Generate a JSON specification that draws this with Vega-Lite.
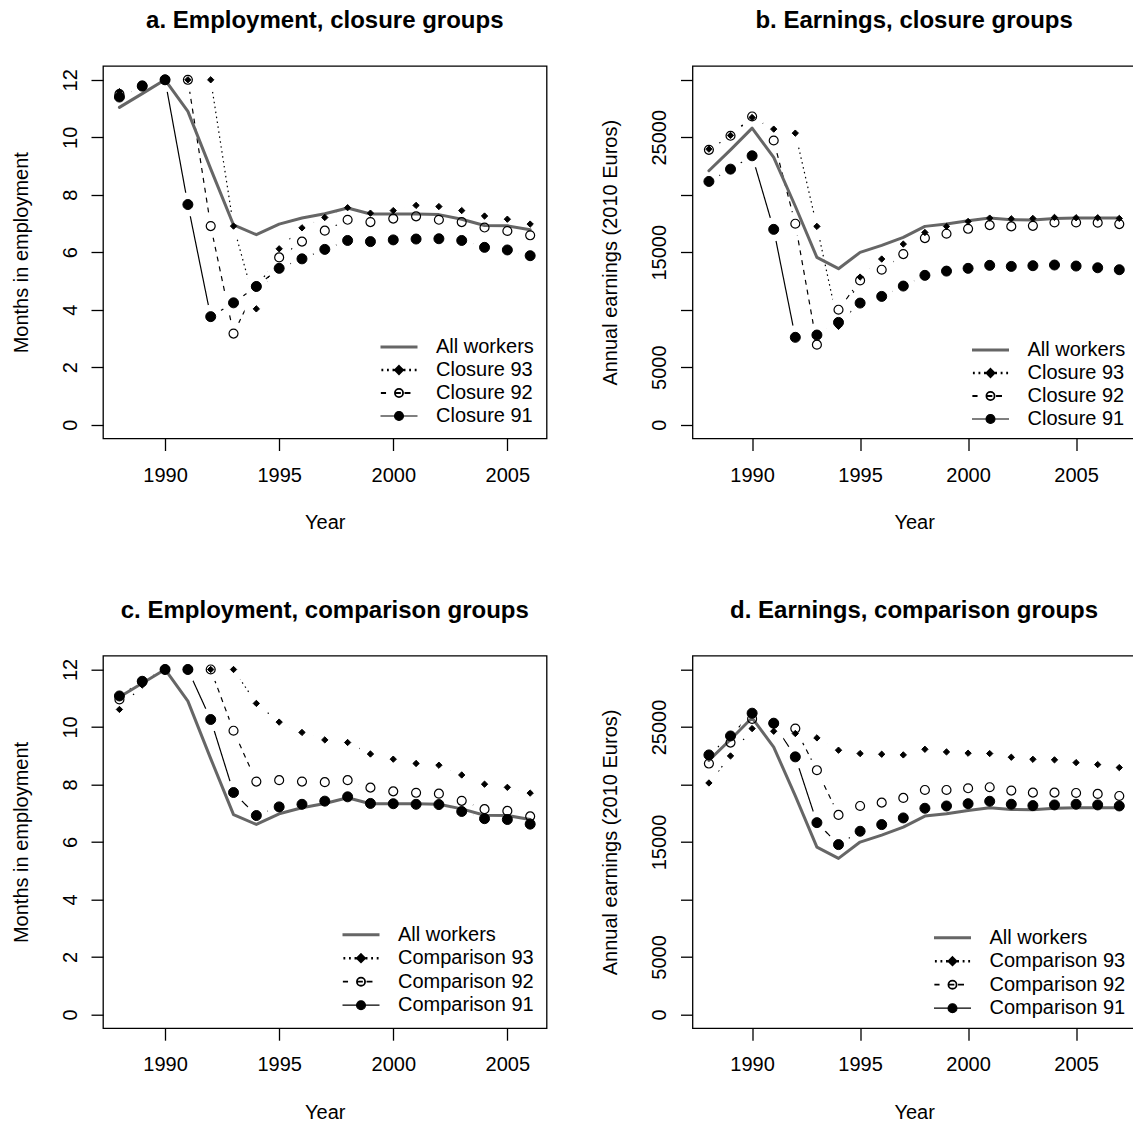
{
  "$schema": "https://vega.github.io/schema/vega-lite/v6.json",
  "background": "white",
  "padding": {"left": 10, "top": 8, "right": -3, "bottom": 0},
  "bounds": "flush",
  "columns": 2,
  "spacing": {"row": 216.7, "column": 145.5},
  "config": {
    "font": "Liberation Sans",
    "view": {"stroke": "black", "strokeWidth": 1.3},
    "title": {"font": "Liberation Sans", "fontSize": 24, "fontWeight": "bold", "color": "black", "anchor": "middle", "baseline": "alphabetic", "offset": 33, "frame": "group"},
    "axis": {"grid": false, "domain": false, "tickColor": "black", "tickWidth": 1.3, "tickSize": 12, "labelFont": "Liberation Sans", "labelFontSize": 20, "labelColor": "black", "labelFlush": false, "labelOverlap": false, "titleFont": "Liberation Sans", "titleFontSize": 20, "titleFontWeight": "normal", "titleColor": "black"},
    "axisX": {"labelBaseline": "alphabetic", "labelPadding": 30.5, "titleBaseline": "alphabetic", "titleY": 90},
    "axisY": {"labelAngle": 270, "labelAlign": "center", "labelBaseline": "alphabetic", "labelPadding": 15, "titleAngle": 270, "titleBaseline": "alphabetic", "titleX": -76},
    "legend": {"title": null, "orient": "bottom-right", "padding": 0, "symbolSize": 1369, "labelOffset": 17, "rowPadding": 3, "clipHeight": 20, "labelFontSize": 20, "labelFont": "Liberation Sans", "labelColor": "black", "labelLimit": 300}
  },
  "datasets": {
    "a": [
      {"year":1988,"series":"All workers","value":11.04},{"year":1989,"series":"All workers","value":11.52},{"year":1990,"series":"All workers","value":12.0},{"year":1991,"series":"All workers","value":10.9},{"year":1992,"series":"All workers","value":8.9},{"year":1993,"series":"All workers","value":6.95},{"year":1994,"series":"All workers","value":6.61},{"year":1995,"series":"All workers","value":6.98},{"year":1996,"series":"All workers","value":7.19},{"year":1997,"series":"All workers","value":7.34},{"year":1998,"series":"All workers","value":7.54},{"year":1999,"series":"All workers","value":7.33},{"year":2000,"series":"All workers","value":7.33},{"year":2001,"series":"All workers","value":7.33},{"year":2002,"series":"All workers","value":7.31},{"year":2003,"series":"All workers","value":7.15},{"year":2004,"series":"All workers","value":6.93},{"year":2005,"series":"All workers","value":6.92},{"year":2006,"series":"All workers","value":6.78},
      {"year":1988,"series":"Closure 93","value":11.59},{"year":1989,"series":"Closure 93","value":11.8},{"year":1990,"series":"Closure 93","value":12.0},{"year":1991,"series":"Closure 93","value":12.0},{"year":1992,"series":"Closure 93","value":12.0},{"year":1993,"series":"Closure 93","value":6.91},{"year":1994,"series":"Closure 93","value":4.03},{"year":1995,"series":"Closure 93","value":6.12},{"year":1996,"series":"Closure 93","value":6.85},{"year":1997,"series":"Closure 93","value":7.21},{"year":1998,"series":"Closure 93","value":7.55},{"year":1999,"series":"Closure 93","value":7.36},{"year":2000,"series":"Closure 93","value":7.45},{"year":2001,"series":"Closure 93","value":7.63},{"year":2002,"series":"Closure 93","value":7.59},{"year":2003,"series":"Closure 93","value":7.45},{"year":2004,"series":"Closure 93","value":7.26},{"year":2005,"series":"Closure 93","value":7.15},{"year":2006,"series":"Closure 93","value":6.98},
      {"year":1988,"series":"Closure 92","value":11.5},{"year":1989,"series":"Closure 92","value":11.8},{"year":1990,"series":"Closure 92","value":12.0},{"year":1991,"series":"Closure 92","value":12.0},{"year":1992,"series":"Closure 92","value":6.91},{"year":1993,"series":"Closure 92","value":3.17},{"year":1994,"series":"Closure 92","value":4.81},{"year":1995,"series":"Closure 92","value":5.82},{"year":1996,"series":"Closure 92","value":6.37},{"year":1997,"series":"Closure 92","value":6.75},{"year":1998,"series":"Closure 92","value":7.13},{"year":1999,"series":"Closure 92","value":7.05},{"year":2000,"series":"Closure 92","value":7.17},{"year":2001,"series":"Closure 92","value":7.25},{"year":2002,"series":"Closure 92","value":7.13},{"year":2003,"series":"Closure 92","value":7.05},{"year":2004,"series":"Closure 92","value":6.86},{"year":2005,"series":"Closure 92","value":6.74},{"year":2006,"series":"Closure 92","value":6.59},
      {"year":1988,"series":"Closure 91","value":11.4},{"year":1989,"series":"Closure 91","value":11.78},{"year":1990,"series":"Closure 91","value":12.0},{"year":1991,"series":"Closure 91","value":7.66},{"year":1992,"series":"Closure 91","value":3.76},{"year":1993,"series":"Closure 91","value":4.24},{"year":1994,"series":"Closure 91","value":4.81},{"year":1995,"series":"Closure 91","value":5.44},{"year":1996,"series":"Closure 91","value":5.77},{"year":1997,"series":"Closure 91","value":6.1},{"year":1998,"series":"Closure 91","value":6.41},{"year":1999,"series":"Closure 91","value":6.37},{"year":2000,"series":"Closure 91","value":6.43},{"year":2001,"series":"Closure 91","value":6.46},{"year":2002,"series":"Closure 91","value":6.47},{"year":2003,"series":"Closure 91","value":6.41},{"year":2004,"series":"Closure 91","value":6.17},{"year":2005,"series":"Closure 91","value":6.08},{"year":2006,"series":"Closure 91","value":5.88}
    ],
    "b": [
      {"year":1988,"series":"All workers","value":22090},{"year":1989,"series":"All workers","value":23910},{"year":1990,"series":"All workers","value":25800},{"year":1991,"series":"All workers","value":23250},{"year":1992,"series":"All workers","value":19000},{"year":1993,"series":"All workers","value":14550},{"year":1994,"series":"All workers","value":13570},{"year":1995,"series":"All workers","value":14990},{"year":1996,"series":"All workers","value":15600},{"year":1997,"series":"All workers","value":16290},{"year":1998,"series":"All workers","value":17250},{"year":1999,"series":"All workers","value":17450},{"year":2000,"series":"All workers","value":17740},{"year":2001,"series":"All workers","value":17970},{"year":2002,"series":"All workers","value":17830},{"year":2003,"series":"All workers","value":17800},{"year":2004,"series":"All workers","value":17940},{"year":2005,"series":"All workers","value":17970},{"year":2006,"series":"All workers","value":17970},{"year":2007,"series":"All workers","value":17970},
      {"year":1988,"series":"Closure 93","value":23970},{"year":1989,"series":"Closure 93","value":25160},{"year":1990,"series":"Closure 93","value":26720},{"year":1991,"series":"Closure 93","value":25710},{"year":1992,"series":"Closure 93","value":25360},{"year":1993,"series":"Closure 93","value":17250},{"year":1994,"series":"Closure 93","value":8550},{"year":1995,"series":"Closure 93","value":12840},{"year":1996,"series":"Closure 93","value":14410},{"year":1997,"series":"Closure 93","value":15710},{"year":1998,"series":"Closure 93","value":16720},{"year":1999,"series":"Closure 93","value":17250},{"year":2000,"series":"Closure 93","value":17680},{"year":2001,"series":"Closure 93","value":17970},{"year":2002,"series":"Closure 93","value":17910},{"year":2003,"series":"Closure 93","value":17940},{"year":2004,"series":"Closure 93","value":18030},{"year":2005,"series":"Closure 93","value":18000},{"year":2006,"series":"Closure 93","value":18000},{"year":2007,"series":"Closure 93","value":17940},
      {"year":1988,"series":"Closure 92","value":23910},{"year":1989,"series":"Closure 92","value":25130},{"year":1990,"series":"Closure 92","value":26810},{"year":1991,"series":"Closure 92","value":24720},{"year":1992,"series":"Closure 92","value":17480},{"year":1993,"series":"Closure 92","value":6960},{"year":1994,"series":"Closure 92","value":10000},{"year":1995,"series":"Closure 92","value":12550},{"year":1996,"series":"Closure 92","value":13480},{"year":1997,"series":"Closure 92","value":14840},{"year":1998,"series":"Closure 92","value":16230},{"year":1999,"series":"Closure 92","value":16610},{"year":2000,"series":"Closure 92","value":17040},{"year":2001,"series":"Closure 92","value":17360},{"year":2002,"series":"Closure 92","value":17250},{"year":2003,"series":"Closure 92","value":17300},{"year":2004,"series":"Closure 92","value":17590},{"year":2005,"series":"Closure 92","value":17590},{"year":2006,"series":"Closure 92","value":17570},{"year":2007,"series":"Closure 92","value":17450},
      {"year":1988,"series":"Closure 91","value":21160},{"year":1989,"series":"Closure 91","value":22230},{"year":1990,"series":"Closure 91","value":23390},{"year":1991,"series":"Closure 91","value":16990},{"year":1992,"series":"Closure 91","value":7600},{"year":1993,"series":"Closure 91","value":7800},{"year":1994,"series":"Closure 91","value":8900},{"year":1995,"series":"Closure 91","value":10580},{"year":1996,"series":"Closure 91","value":11160},{"year":1997,"series":"Closure 91","value":12060},{"year":1998,"series":"Closure 91","value":12990},{"year":1999,"series":"Closure 91","value":13360},{"year":2000,"series":"Closure 91","value":13600},{"year":2001,"series":"Closure 91","value":13860},{"year":2002,"series":"Closure 91","value":13770},{"year":2003,"series":"Closure 91","value":13830},{"year":2004,"series":"Closure 91","value":13890},{"year":2005,"series":"Closure 91","value":13800},{"year":2006,"series":"Closure 91","value":13650},{"year":2007,"series":"Closure 91","value":13480}
    ],
    "c": [
      {"year":1988,"series":"All workers","value":11.04},{"year":1989,"series":"All workers","value":11.52},{"year":1990,"series":"All workers","value":12.0},{"year":1991,"series":"All workers","value":10.9},{"year":1992,"series":"All workers","value":8.9},{"year":1993,"series":"All workers","value":6.95},{"year":1994,"series":"All workers","value":6.61},{"year":1995,"series":"All workers","value":6.98},{"year":1996,"series":"All workers","value":7.19},{"year":1997,"series":"All workers","value":7.34},{"year":1998,"series":"All workers","value":7.54},{"year":1999,"series":"All workers","value":7.33},{"year":2000,"series":"All workers","value":7.33},{"year":2001,"series":"All workers","value":7.33},{"year":2002,"series":"All workers","value":7.31},{"year":2003,"series":"All workers","value":7.15},{"year":2004,"series":"All workers","value":6.93},{"year":2005,"series":"All workers","value":6.92},{"year":2006,"series":"All workers","value":6.78},
      {"year":1988,"series":"Comparison 93","value":10.61},{"year":1989,"series":"Comparison 93","value":11.46},{"year":1990,"series":"Comparison 93","value":12.0},{"year":1991,"series":"Comparison 93","value":12.0},{"year":1992,"series":"Comparison 93","value":12.0},{"year":1993,"series":"Comparison 93","value":12.0},{"year":1994,"series":"Comparison 93","value":10.82},{"year":1995,"series":"Comparison 93","value":10.17},{"year":1996,"series":"Comparison 93","value":9.81},{"year":1997,"series":"Comparison 93","value":9.55},{"year":1998,"series":"Comparison 93","value":9.46},{"year":1999,"series":"Comparison 93","value":9.06},{"year":2000,"series":"Comparison 93","value":8.88},{"year":2001,"series":"Comparison 93","value":8.73},{"year":2002,"series":"Comparison 93","value":8.67},{"year":2003,"series":"Comparison 93","value":8.33},{"year":2004,"series":"Comparison 93","value":8.01},{"year":2005,"series":"Comparison 93","value":7.9},{"year":2006,"series":"Comparison 93","value":7.7},
      {"year":1988,"series":"Comparison 92","value":10.96},{"year":1989,"series":"Comparison 92","value":11.57},{"year":1990,"series":"Comparison 92","value":12.0},{"year":1991,"series":"Comparison 92","value":12.0},{"year":1992,"series":"Comparison 92","value":12.0},{"year":1993,"series":"Comparison 92","value":9.87},{"year":1994,"series":"Comparison 92","value":8.1},{"year":1995,"series":"Comparison 92","value":8.15},{"year":1996,"series":"Comparison 92","value":8.1},{"year":1997,"series":"Comparison 92","value":8.08},{"year":1998,"series":"Comparison 92","value":8.15},{"year":1999,"series":"Comparison 92","value":7.89},{"year":2000,"series":"Comparison 92","value":7.76},{"year":2001,"series":"Comparison 92","value":7.71},{"year":2002,"series":"Comparison 92","value":7.68},{"year":2003,"series":"Comparison 92","value":7.43},{"year":2004,"series":"Comparison 92","value":7.14},{"year":2005,"series":"Comparison 92","value":7.08},{"year":2006,"series":"Comparison 92","value":6.89},
      {"year":1988,"series":"Comparison 91","value":11.08},{"year":1989,"series":"Comparison 91","value":11.59},{"year":1990,"series":"Comparison 91","value":12.0},{"year":1991,"series":"Comparison 91","value":12.0},{"year":1992,"series":"Comparison 91","value":10.26},{"year":1993,"series":"Comparison 91","value":7.72},{"year":1994,"series":"Comparison 91","value":6.92},{"year":1995,"series":"Comparison 91","value":7.22},{"year":1996,"series":"Comparison 91","value":7.31},{"year":1997,"series":"Comparison 91","value":7.42},{"year":1998,"series":"Comparison 91","value":7.57},{"year":1999,"series":"Comparison 91","value":7.34},{"year":2000,"series":"Comparison 91","value":7.33},{"year":2001,"series":"Comparison 91","value":7.31},{"year":2002,"series":"Comparison 91","value":7.3},{"year":2003,"series":"Comparison 91","value":7.06},{"year":2004,"series":"Comparison 91","value":6.81},{"year":2005,"series":"Comparison 91","value":6.78},{"year":2006,"series":"Comparison 91","value":6.62}
    ],
    "d": [
      {"year":1988,"series":"All workers","value":22090},{"year":1989,"series":"All workers","value":23910},{"year":1990,"series":"All workers","value":25800},{"year":1991,"series":"All workers","value":23250},{"year":1992,"series":"All workers","value":19000},{"year":1993,"series":"All workers","value":14550},{"year":1994,"series":"All workers","value":13570},{"year":1995,"series":"All workers","value":14990},{"year":1996,"series":"All workers","value":15600},{"year":1997,"series":"All workers","value":16290},{"year":1998,"series":"All workers","value":17250},{"year":1999,"series":"All workers","value":17450},{"year":2000,"series":"All workers","value":17740},{"year":2001,"series":"All workers","value":17970},{"year":2002,"series":"All workers","value":17830},{"year":2003,"series":"All workers","value":17800},{"year":2004,"series":"All workers","value":17940},{"year":2005,"series":"All workers","value":17970},{"year":2006,"series":"All workers","value":17970},{"year":2007,"series":"All workers","value":17970},
      {"year":1988,"series":"Comparison 93","value":20130},{"year":1989,"series":"Comparison 93","value":22480},{"year":1990,"series":"Comparison 93","value":24860},{"year":1991,"series":"Comparison 93","value":24630},{"year":1992,"series":"Comparison 93","value":24430},{"year":1993,"series":"Comparison 93","value":24050},{"year":1994,"series":"Comparison 93","value":22980},{"year":1995,"series":"Comparison 93","value":22690},{"year":1996,"series":"Comparison 93","value":22630},{"year":1997,"series":"Comparison 93","value":22570},{"year":1998,"series":"Comparison 93","value":23060},{"year":1999,"series":"Comparison 93","value":22830},{"year":2000,"series":"Comparison 93","value":22720},{"year":2001,"series":"Comparison 93","value":22690},{"year":2002,"series":"Comparison 93","value":22370},{"year":2003,"series":"Comparison 93","value":22190},{"year":2004,"series":"Comparison 93","value":22140},{"year":2005,"series":"Comparison 93","value":21900},{"year":2006,"series":"Comparison 93","value":21730},{"year":2007,"series":"Comparison 93","value":21470},
      {"year":1988,"series":"Comparison 92","value":21820},{"year":1989,"series":"Comparison 92","value":23640},{"year":1990,"series":"Comparison 92","value":25700},{"year":1991,"series":"Comparison 92","value":25300},{"year":1992,"series":"Comparison 92","value":24860},{"year":1993,"series":"Comparison 92","value":21240},{"year":1994,"series":"Comparison 92","value":17350},{"year":1995,"series":"Comparison 92","value":18130},{"year":1996,"series":"Comparison 92","value":18420},{"year":1997,"series":"Comparison 92","value":18830},{"year":1998,"series":"Comparison 92","value":19520},{"year":1999,"series":"Comparison 92","value":19520},{"year":2000,"series":"Comparison 92","value":19670},{"year":2001,"series":"Comparison 92","value":19760},{"year":2002,"series":"Comparison 92","value":19470},{"year":2003,"series":"Comparison 92","value":19290},{"year":2004,"series":"Comparison 92","value":19290},{"year":2005,"series":"Comparison 92","value":19260},{"year":2006,"series":"Comparison 92","value":19180},{"year":2007,"series":"Comparison 92","value":19000},
      {"year":1988,"series":"Comparison 91","value":22570},{"year":1989,"series":"Comparison 91","value":24220},{"year":1990,"series":"Comparison 91","value":26200},{"year":1991,"series":"Comparison 91","value":25330},{"year":1992,"series":"Comparison 91","value":22400},{"year":1993,"series":"Comparison 91","value":16680},{"year":1994,"series":"Comparison 91","value":14770},{"year":1995,"series":"Comparison 91","value":15930},{"year":1996,"series":"Comparison 91","value":16510},{"year":1997,"series":"Comparison 91","value":17090},{"year":1998,"series":"Comparison 91","value":17930},{"year":1999,"series":"Comparison 91","value":18130},{"year":2000,"series":"Comparison 91","value":18330},{"year":2001,"series":"Comparison 91","value":18540},{"year":2002,"series":"Comparison 91","value":18280},{"year":2003,"series":"Comparison 91","value":18160},{"year":2004,"series":"Comparison 91","value":18220},{"year":2005,"series":"Comparison 91","value":18280},{"year":2006,"series":"Comparison 91","value":18220},{"year":2007,"series":"Comparison 91","value":18130}
    ]
  },
  "concat": [
    {
      "title": {"text": "a. Employment, closure groups"},
      "width": 443.6, "height": 372.5,
      "data": {"name": "a"},
      "encoding": {
        "x": {"field": "year", "type": "quantitative", "scale": {"domain": [1987.28, 2006.72], "nice": false, "zero": false}, "axis": {"values": [1990, 1995, 2000, 2005], "format": "d", "title": "Year"}},
        "y": {"field": "value", "type": "quantitative", "scale": {"domain": [-0.48, 12.48], "nice": false, "zero": false}, "axis": {"values": [0, 2, 4, 6, 8, 10, 12], "title": "Months in employment"}}
      },
      "layer": [
        {"transform": [{"filter": "datum.series != 'All workers'"}], "mark": {"type": "line", "stroke": "black", "strokeWidth": 1.2}, "encoding": {"strokeDash": {"field": "series", "type": "nominal", "scale": {"domain": ["Closure 93", "Closure 92", "Closure 91"], "range": [[1.5, 3.5], [5, 5], [1, 0]]}, "legend": null}}},
        {"transform": [{"filter": "datum.series != 'All workers'"}], "mark": {"type": "point", "filled": true, "color": "white", "size": 576, "opacity": 1, "strokeWidth": 0}},
        {"transform": [{"filter": "datum.series == 'All workers'"}], "mark": {"type": "line", "stroke": "#666666", "strokeWidth": 3, "strokeCap": "round", "strokeJoin": "round"}},
        {"transform": [{"filter": "datum.series == 'Closure 93'"}], "mark": {"type": "point", "shape": "diamond", "filled": true, "color": "black", "stroke": "black", "strokeWidth": 1, "size": 40, "opacity": 1}},
        {"transform": [{"filter": "datum.series == 'Closure 92'"}], "mark": {"type": "point", "shape": "circle", "filled": false, "stroke": "black", "fill": "transparent", "strokeWidth": 1.2, "size": 80, "opacity": 1}},
        {"transform": [{"filter": "datum.series == 'Closure 91'"}], "mark": {"type": "point", "shape": "circle", "filled": true, "color": "black", "stroke": "black", "strokeWidth": 1, "size": 100, "opacity": 1}},
        {"transform": [{"filter": "false"}], "mark": {"type": "point", "filled": true, "opacity": 1},
         "encoding": {
           "shape": {"field": "series", "type": "nominal", "scale": {"domain": ["All workers", "Closure 93", "Closure 92", "Closure 91"], "range": ["M-1,0H1", "M-0.95,0H-0.85M-0.65,0H-0.55M-0.35,0H-0.25M0.25,0H0.35M0.55,0H0.65M0.85,0H0.95M0,-0.2L0.2,0L0,0.2L-0.2,0Z", "M-0.98,0H-0.7M0.3,0H0.62M-0.22,0H0.1M-0.22,0A0.22,0.22 0 1,1 0.22,0A0.22,0.22 0 1,1 -0.22,0Z", "M-1,0H1M-0.24,0A0.24,0.24 0 1,1 0.24,0A0.24,0.24 0 1,1 -0.24,0Z"]}, "legend": {"title": null, "offset": 12.5}},
           "fill": {"field": "series", "type": "nominal", "scale": {"domain": ["All workers", "Closure 93", "Closure 92", "Closure 91"], "range": ["#666666", "black", "transparent", "black"]}, "legend": {"title": null, "offset": 12.5}},
           "stroke": {"field": "series", "type": "nominal", "scale": {"domain": ["All workers", "Closure 93", "Closure 92", "Closure 91"], "range": ["#666666", "black", "black", "black"]}, "legend": {"title": null, "offset": 12.5}},
           "strokeWidth": {"field": "series", "type": "nominal", "scale": {"domain": ["All workers", "Closure 93", "Closure 92", "Closure 91"], "range": [3, 1.2, 1.2, 1.2]}, "legend": {"title": null, "offset": 12.5}}
         }}
      ]
    },
    {
      "title": {"text": "b. Earnings, closure groups"},
      "width": 443.2, "height": 372.5,
      "data": {"name": "b"},
      "encoding": {
        "x": {"field": "year", "type": "quantitative", "scale": {"domain": [1987.24, 2007.76], "nice": false, "zero": false}, "axis": {"values": [1990, 1995, 2000, 2005], "format": "d", "title": "Year"}},
        "y": {"field": "value", "type": "quantitative", "scale": {"domain": [-1200, 31200], "nice": false, "zero": false}, "axis": {"values": [0, 5000, 10000, 15000, 20000, 25000, 30000], "format": "d", "labelExpr": "indexof([0, 5000, 15000, 25000], datum.value) >= 0 ? datum.label : ''", "title": "Annual earnings (2010 Euros)"}}
      },
      "layer": [
        {"transform": [{"filter": "datum.series != 'All workers'"}], "mark": {"type": "line", "stroke": "black", "strokeWidth": 1.2}, "encoding": {"strokeDash": {"field": "series", "type": "nominal", "scale": {"domain": ["Closure 93", "Closure 92", "Closure 91"], "range": [[1.5, 3.5], [5, 5], [1, 0]]}, "legend": null}}},
        {"transform": [{"filter": "datum.series != 'All workers'"}], "mark": {"type": "point", "filled": true, "color": "white", "size": 576, "opacity": 1, "strokeWidth": 0}},
        {"transform": [{"filter": "datum.series == 'All workers'"}], "mark": {"type": "line", "stroke": "#666666", "strokeWidth": 3, "strokeCap": "round", "strokeJoin": "round"}},
        {"transform": [{"filter": "datum.series == 'Closure 93'"}], "mark": {"type": "point", "shape": "diamond", "filled": true, "color": "black", "stroke": "black", "strokeWidth": 1, "size": 40, "opacity": 1}},
        {"transform": [{"filter": "datum.series == 'Closure 92'"}], "mark": {"type": "point", "shape": "circle", "filled": false, "stroke": "black", "fill": "transparent", "strokeWidth": 1.2, "size": 80, "opacity": 1}},
        {"transform": [{"filter": "datum.series == 'Closure 91'"}], "mark": {"type": "point", "shape": "circle", "filled": true, "color": "black", "stroke": "black", "strokeWidth": 1, "size": 100, "opacity": 1}},
        {"transform": [{"filter": "false"}], "mark": {"type": "point", "filled": true, "opacity": 1},
         "encoding": {
           "shape": {"field": "series", "type": "nominal", "scale": {"domain": ["All workers", "Closure 93", "Closure 92", "Closure 91"], "range": ["M-1,0H1", "M-0.95,0H-0.85M-0.65,0H-0.55M-0.35,0H-0.25M0.25,0H0.35M0.55,0H0.65M0.85,0H0.95M0,-0.2L0.2,0L0,0.2L-0.2,0Z", "M-0.98,0H-0.7M0.3,0H0.62M-0.22,0H0.1M-0.22,0A0.22,0.22 0 1,1 0.22,0A0.22,0.22 0 1,1 -0.22,0Z", "M-1,0H1M-0.24,0A0.24,0.24 0 1,1 0.24,0A0.24,0.24 0 1,1 -0.24,0Z"]}, "legend": {"title": null, "offset": 10}},
           "fill": {"field": "series", "type": "nominal", "scale": {"domain": ["All workers", "Closure 93", "Closure 92", "Closure 91"], "range": ["#666666", "black", "transparent", "black"]}, "legend": {"title": null, "offset": 10}},
           "stroke": {"field": "series", "type": "nominal", "scale": {"domain": ["All workers", "Closure 93", "Closure 92", "Closure 91"], "range": ["#666666", "black", "black", "black"]}, "legend": {"title": null, "offset": 10}},
           "strokeWidth": {"field": "series", "type": "nominal", "scale": {"domain": ["All workers", "Closure 93", "Closure 92", "Closure 91"], "range": [3, 1.2, 1.2, 1.2]}, "legend": {"title": null, "offset": 10}}
         }}
      ]
    },
    {
      "title": {"text": "c. Employment, comparison groups"},
      "width": 443.6, "height": 372.5,
      "data": {"name": "c"},
      "encoding": {
        "x": {"field": "year", "type": "quantitative", "scale": {"domain": [1987.28, 2006.72], "nice": false, "zero": false}, "axis": {"values": [1990, 1995, 2000, 2005], "format": "d", "title": "Year"}},
        "y": {"field": "value", "type": "quantitative", "scale": {"domain": [-0.48, 12.48], "nice": false, "zero": false}, "axis": {"values": [0, 2, 4, 6, 8, 10, 12], "title": "Months in employment"}}
      },
      "layer": [
        {"transform": [{"filter": "datum.series != 'All workers'"}], "mark": {"type": "line", "stroke": "black", "strokeWidth": 1.2}, "encoding": {"strokeDash": {"field": "series", "type": "nominal", "scale": {"domain": ["Comparison 93", "Comparison 92", "Comparison 91"], "range": [[1.5, 3.5], [5, 5], [1, 0]]}, "legend": null}}},
        {"transform": [{"filter": "datum.series != 'All workers'"}], "mark": {"type": "point", "filled": true, "color": "white", "size": 576, "opacity": 1, "strokeWidth": 0}},
        {"transform": [{"filter": "datum.series == 'All workers'"}], "mark": {"type": "line", "stroke": "#666666", "strokeWidth": 3, "strokeCap": "round", "strokeJoin": "round"}},
        {"transform": [{"filter": "datum.series == 'Comparison 93'"}], "mark": {"type": "point", "shape": "diamond", "filled": true, "color": "black", "stroke": "black", "strokeWidth": 1, "size": 40, "opacity": 1}},
        {"transform": [{"filter": "datum.series == 'Comparison 92'"}], "mark": {"type": "point", "shape": "circle", "filled": false, "stroke": "black", "fill": "transparent", "strokeWidth": 1.2, "size": 80, "opacity": 1}},
        {"transform": [{"filter": "datum.series == 'Comparison 91'"}], "mark": {"type": "point", "shape": "circle", "filled": true, "color": "black", "stroke": "black", "strokeWidth": 1, "size": 100, "opacity": 1}},
        {"transform": [{"filter": "false"}], "mark": {"type": "point", "filled": true, "opacity": 1},
         "encoding": {
           "shape": {"field": "series", "type": "nominal", "scale": {"domain": ["All workers", "Comparison 93", "Comparison 92", "Comparison 91"], "range": ["M-1,0H1", "M-0.95,0H-0.85M-0.65,0H-0.55M-0.35,0H-0.25M0.25,0H0.35M0.55,0H0.65M0.85,0H0.95M0,-0.2L0.2,0L0,0.2L-0.2,0Z", "M-0.98,0H-0.7M0.3,0H0.62M-0.22,0H0.1M-0.22,0A0.22,0.22 0 1,1 0.22,0A0.22,0.22 0 1,1 -0.22,0Z", "M-1,0H1M-0.24,0A0.24,0.24 0 1,1 0.24,0A0.24,0.24 0 1,1 -0.24,0Z"]}, "legend": {"title": null, "offset": 12.5, "rowPadding": 3.5}},
           "fill": {"field": "series", "type": "nominal", "scale": {"domain": ["All workers", "Comparison 93", "Comparison 92", "Comparison 91"], "range": ["#666666", "black", "transparent", "black"]}, "legend": {"title": null, "offset": 12.5, "rowPadding": 3.5}},
           "stroke": {"field": "series", "type": "nominal", "scale": {"domain": ["All workers", "Comparison 93", "Comparison 92", "Comparison 91"], "range": ["#666666", "black", "black", "black"]}, "legend": {"title": null, "offset": 12.5, "rowPadding": 3.5}},
           "strokeWidth": {"field": "series", "type": "nominal", "scale": {"domain": ["All workers", "Comparison 93", "Comparison 92", "Comparison 91"], "range": [3, 1.2, 1.2, 1.2]}, "legend": {"title": null, "offset": 12.5, "rowPadding": 3.5}}
         }}
      ]
    },
    {
      "title": {"text": "d. Earnings, comparison groups"},
      "width": 443.2, "height": 372.5,
      "data": {"name": "d"},
      "encoding": {
        "x": {"field": "year", "type": "quantitative", "scale": {"domain": [1987.24, 2007.76], "nice": false, "zero": false}, "axis": {"values": [1990, 1995, 2000, 2005], "format": "d", "title": "Year"}},
        "y": {"field": "value", "type": "quantitative", "scale": {"domain": [-1200, 31200], "nice": false, "zero": false}, "axis": {"values": [0, 5000, 10000, 15000, 20000, 25000, 30000], "format": "d", "labelExpr": "indexof([0, 5000, 15000, 25000], datum.value) >= 0 ? datum.label : ''", "title": "Annual earnings (2010 Euros)"}}
      },
      "layer": [
        {"transform": [{"filter": "datum.series != 'All workers'"}], "mark": {"type": "line", "stroke": "black", "strokeWidth": 1.2}, "encoding": {"strokeDash": {"field": "series", "type": "nominal", "scale": {"domain": ["Comparison 93", "Comparison 92", "Comparison 91"], "range": [[1.5, 3.5], [5, 5], [1, 0]]}, "legend": null}}},
        {"transform": [{"filter": "datum.series != 'All workers'"}], "mark": {"type": "point", "filled": true, "color": "white", "size": 576, "opacity": 1, "strokeWidth": 0}},
        {"transform": [{"filter": "datum.series == 'All workers'"}], "mark": {"type": "line", "stroke": "#666666", "strokeWidth": 3, "strokeCap": "round", "strokeJoin": "round"}},
        {"transform": [{"filter": "datum.series == 'Comparison 93'"}], "mark": {"type": "point", "shape": "diamond", "filled": true, "color": "black", "stroke": "black", "strokeWidth": 1, "size": 40, "opacity": 1}},
        {"transform": [{"filter": "datum.series == 'Comparison 92'"}], "mark": {"type": "point", "shape": "circle", "filled": false, "stroke": "black", "fill": "transparent", "strokeWidth": 1.2, "size": 80, "opacity": 1}},
        {"transform": [{"filter": "datum.series == 'Comparison 91'"}], "mark": {"type": "point", "shape": "circle", "filled": true, "color": "black", "stroke": "black", "strokeWidth": 1, "size": 100, "opacity": 1}},
        {"transform": [{"filter": "false"}], "mark": {"type": "point", "filled": true, "opacity": 1},
         "encoding": {
           "shape": {"field": "series", "type": "nominal", "scale": {"domain": ["All workers", "Comparison 93", "Comparison 92", "Comparison 91"], "range": ["M-1,0H1", "M-0.95,0H-0.85M-0.65,0H-0.55M-0.35,0H-0.25M0.25,0H0.35M0.55,0H0.65M0.85,0H0.95M0,-0.2L0.2,0L0,0.2L-0.2,0Z", "M-0.98,0H-0.7M0.3,0H0.62M-0.22,0H0.1M-0.22,0A0.22,0.22 0 1,1 0.22,0A0.22,0.22 0 1,1 -0.22,0Z", "M-1,0H1M-0.24,0A0.24,0.24 0 1,1 0.24,0A0.24,0.24 0 1,1 -0.24,0Z"]}, "legend": {"title": null, "offset": 10, "rowPadding": 3.5}},
           "fill": {"field": "series", "type": "nominal", "scale": {"domain": ["All workers", "Comparison 93", "Comparison 92", "Comparison 91"], "range": ["#666666", "black", "transparent", "black"]}, "legend": {"title": null, "offset": 10, "rowPadding": 3.5}},
           "stroke": {"field": "series", "type": "nominal", "scale": {"domain": ["All workers", "Comparison 93", "Comparison 92", "Comparison 91"], "range": ["#666666", "black", "black", "black"]}, "legend": {"title": null, "offset": 10, "rowPadding": 3.5}},
           "strokeWidth": {"field": "series", "type": "nominal", "scale": {"domain": ["All workers", "Comparison 93", "Comparison 92", "Comparison 91"], "range": [3, 1.2, 1.2, 1.2]}, "legend": {"title": null, "offset": 10, "rowPadding": 3.5}}
         }}
      ]
    }
  ],
  "resolve": {
    "scale": {"x": "independent", "y": "independent", "shape": "independent", "fill": "independent", "stroke": "independent", "strokeWidth": "independent", "strokeDash": "independent"},
    "legend": {"shape": "independent", "fill": "independent", "stroke": "independent", "strokeWidth": "independent"}
  }
}
